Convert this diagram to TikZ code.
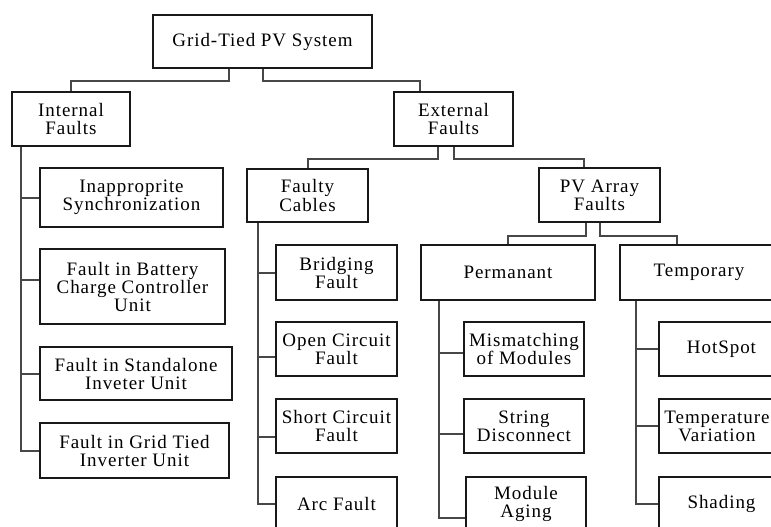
\documentclass[tikz,border=0pt]{standalone}
\usepackage{fontspec}
\setmainfont[LetterSpace=5]{Liberation Serif}
\begin{document}
\begin{tikzpicture}[x=1pt,y=-1pt,
  box/.style={draw=black!90,line width=1.6pt,fill=white,inner sep=0pt,align=center,
    font=\fontsize{19}{18}\selectfont},
  conn/.style={draw=black!72,line width=2pt}]
\useasboundingbox (0,0) rectangle (771,527);
\clip (0,0) rectangle (771,527);
\fill[white] (0,0) rectangle (771,527);
% connectors: top levels (drawn first, boxes cover the ends)
\path (262.5,41.5) coordinate (dummy);
% nodes
\node[box,minimum width=219pt,minimum height=53pt] (root) at (262.5,41.5) {Grid-Tied PV System};
\node[box,minimum width=118pt,minimum height=54pt] (int) at (71,119) {Internal\\Faults};
\node[box,minimum width=119pt,minimum height=54pt] (ext) at (453.5,119) {External\\Faults};
\node[box,minimum width=183pt,minimum height=59pt] (i1) at (131.5,197.5) {Inapproprite\\Synchronization};
\node[box,minimum width=185pt,minimum height=75pt] (i2) at (132.5,286.5) {Fault in Battery\\Charge Controller\\Unit};
\node[box,minimum width=192pt,minimum height=53pt] (i3) at (136,373.5) {Fault in Standalone\\Inveter Unit};
\node[box,minimum width=189pt,minimum height=55pt] (i4) at (134.5,450.5) {Fault in Grid Tied\\Inverter Unit};
\node[box,minimum width=121pt,minimum height=53pt] (fc) at (307.5,195.5) {Faulty\\Cables};
\node[box,minimum width=121pt,minimum height=54pt] (pv) at (599.5,195) {PV Array\\Faults};
\node[box,minimum width=121pt,minimum height=55pt] (f1) at (336.5,272.5) {Bridging\\Fault};
\node[box,minimum width=121pt,minimum height=54pt] (f2) at (336.5,349) {Open Circuit\\Fault};
\node[box,minimum width=121pt,minimum height=54pt] (f3) at (336.5,426) {Short Circuit\\Fault};
\node[box,minimum width=121pt,minimum height=53pt] (f4) at (336.5,503.5) {Arc Fault};
\node[box,minimum width=174pt,minimum height=55pt] (perm) at (508,272.5) {Permanant};
\node[box,minimum width=158pt,minimum height=55pt] (temp) at (699,272.5) {Temporary};
\node[box,minimum width=120pt,minimum height=54pt] (p1) at (524,349) {Mismatching\\of Modules};
\node[box,minimum width=120pt,minimum height=54pt] (p2) at (524,426) {String\\Disconnect};
\node[box,minimum width=120pt,minimum height=53pt] (p3) at (526,503.5) {Module\\Aging};
\node[box,minimum width=125pt,minimum height=54pt] (t1) at (721.5,349) {HotSpot};
\node[box,minimum width=125pt,minimum height=54pt] (t2) at (721.5,426) {Temperature\hspace*{9pt}\\Variation\hspace*{9pt}};
\node[box,minimum width=125pt,minimum height=53pt] (t3) at (721.5,503.5) {Shading};
% connectors: top levels
\draw[conn] ([xshift=-33.5pt]root.south) -- ++(0,12) -| (int.north);
\draw[conn] (root.south) -- ++(0,12) -| ([xshift=-33.5pt]ext.north);
\draw[conn] ([xshift=-15.5pt]ext.south) -- ++(0,12) -| (fc.north);
\draw[conn] (ext.south) -- ++(0,12) -| ([xshift=-15.5pt]pv.north);
\draw[conn] ([xshift=-13.5pt]pv.south) -- ++(0,13) -| (perm.north);
\draw[conn] (pv.south) -- ++(0,13) -| ([xshift=-22pt]temp.north);
% trunks
\draw[conn] ([xshift=10pt]int.south west) |- (i1.west);
\draw[conn] ([xshift=10pt]int.south west) |- ([yshift=6.5pt]i2.west);
\draw[conn] ([xshift=10pt]int.south west) |- (i3.west);
\draw[conn] ([xshift=10pt]int.south west) |- (i4.west);
\draw[conn] ([xshift=12pt]fc.south west) |- (f1.west);
\draw[conn] ([xshift=12pt]fc.south west) |- ([yshift=-8pt]f2.west);
\draw[conn] ([xshift=12pt]fc.south west) |- ([yshift=-11pt]f3.west);
\draw[conn] ([xshift=12pt]fc.south west) |- (f4.west);
\draw[conn] ([xshift=19pt]perm.south west) |- ([yshift=-4pt]p1.west);
\draw[conn] ([xshift=19pt]perm.south west) |- ([yshift=-8pt]p2.west);
\draw[conn] ([xshift=19pt]perm.south west) |- ([yshift=-14pt]p3.west);
\draw[conn] ([xshift=17pt]temp.south west) |- (t1.west);
\draw[conn] ([xshift=17pt]temp.south west) |- (t2.west);
\draw[conn] ([xshift=17pt]temp.south west) |- (t3.west);
\end{tikzpicture}
\end{document}
